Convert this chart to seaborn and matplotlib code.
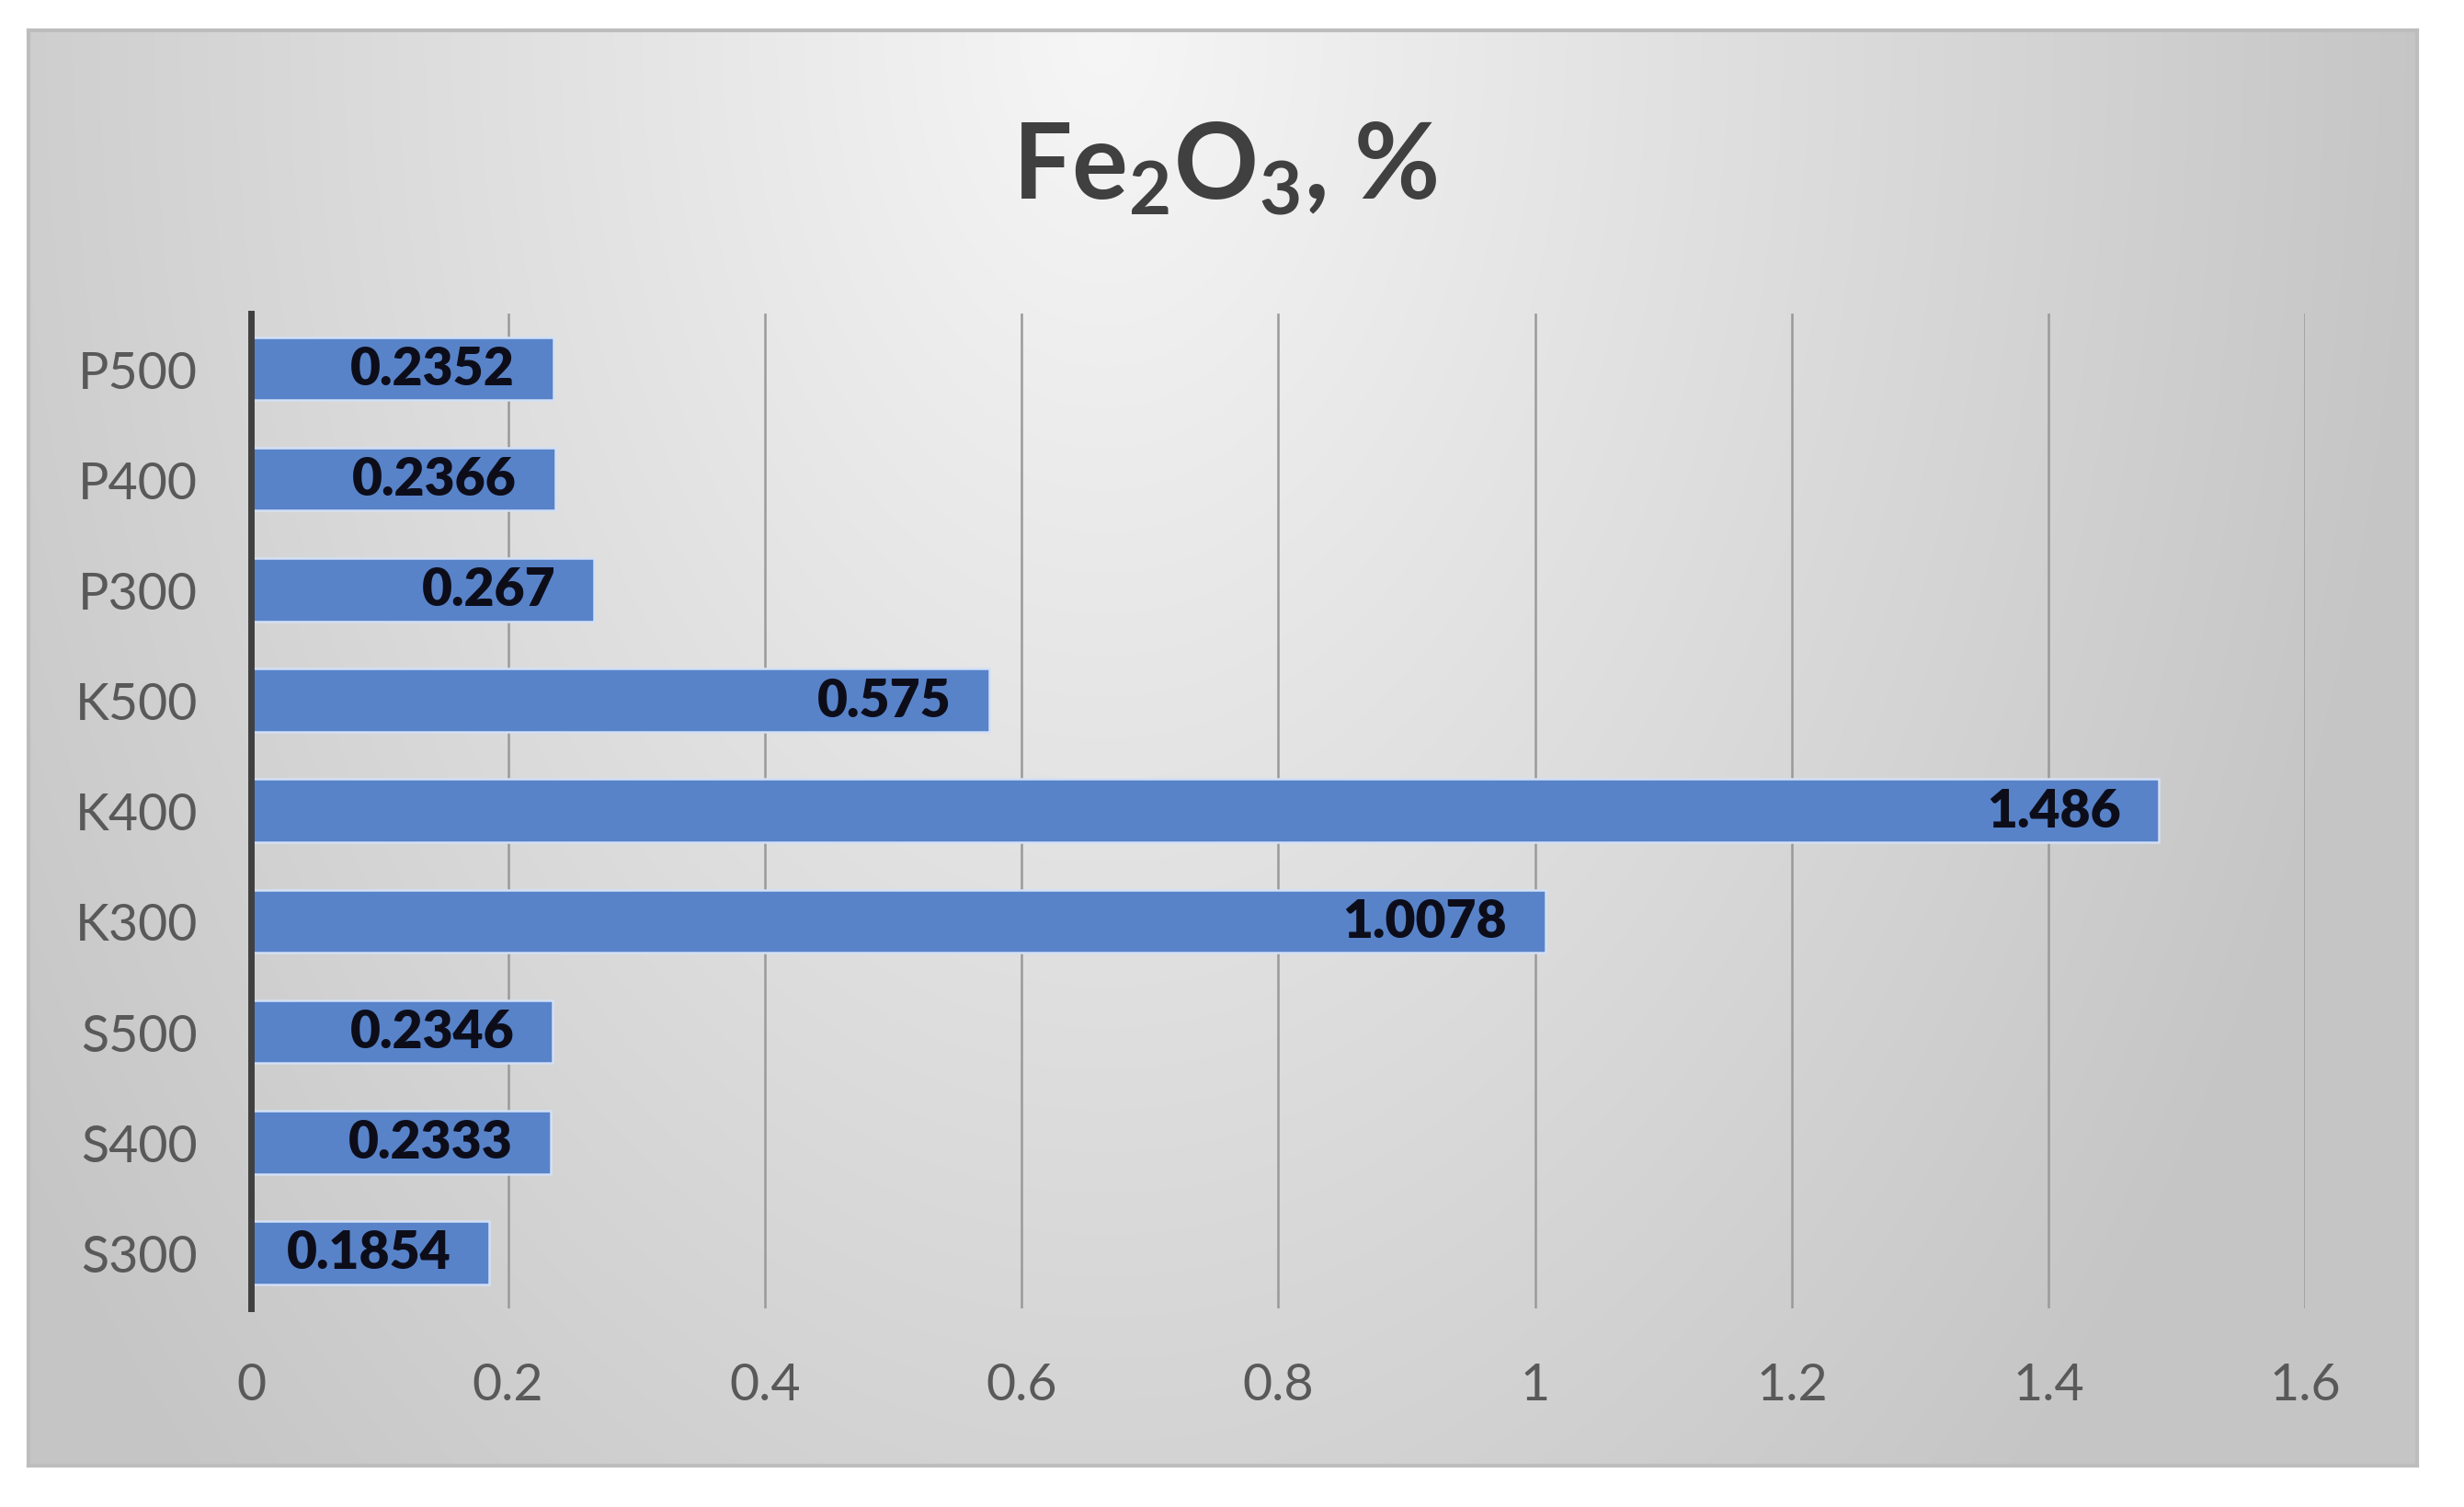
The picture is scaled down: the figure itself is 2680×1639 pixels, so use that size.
import numpy as np
import pandas as pd
import matplotlib
matplotlib.use("Agg")
import matplotlib.pyplot as plt
import seaborn as sns

# ---- data ----
categories = ["P500", "P400", "P300", "K500", "K400", "K300", "S500", "S400", "S300"]
values = [0.2352, 0.2366, 0.267, 0.575, 1.486, 1.0078, 0.2346, 0.2333, 0.1854]
value_labels = ["0.2352", "0.2366", "0.267", "0.575", "1.486", "1.0078", "0.2346", "0.2333", "0.1854"]
x_ticks = [0, 0.2, 0.4, 0.6, 0.8, 1.0, 1.2, 1.4, 1.6]
x_tick_labels = ["0", "0.2", "0.4", "0.6", "0.8", "1", "1.2", "1.4", "1.6"]
title = r"Fe$_\mathbf{2}$O$_\mathbf{3}$, %"

df = pd.DataFrame({"sample": categories, "value": values})

sns.set_theme(style="white")
plt.rcParams["font.family"] = ["Lato", "DejaVu Sans"]
plt.rcParams["mathtext.fontset"] = "custom"
plt.rcParams["mathtext.rm"] = "Lato"
plt.rcParams["mathtext.bf"] = "Lato:bold"
plt.rcParams["mathtext.it"] = "Lato:italic"

fig = plt.figure(figsize=(26.8, 16.4), dpi=100)
fig.patch.set_facecolor("white")

# background panel with soft gradient (decoration)
bg = fig.add_axes([0.0116, 0.0274, 0.9695, 0.9516])
ny, nx = 300, 600
yy, xx = np.mgrid[0:1:ny * 1j, 0:1:nx * 1j]
d = np.sqrt(((xx - 0.45) / 0.55) ** 2 + (yy / 1.4) ** 2)
shade = 0.965 - 0.19 * np.clip(d, 0, 1.0)
img = np.dstack([shade, shade, shade])
bg.imshow(img, aspect="auto", extent=[0, 1, 0, 1], origin="upper", interpolation="bilinear")
bg.set_xlim(0, 1)
bg.set_ylim(0, 1)
bg.set_xticks([])
bg.set_yticks([])
for s in bg.spines.values():
    s.set_color("#bdbdbd")
    s.set_linewidth(3)
bg.set_zorder(0)

ax = fig.add_axes([0.102, 0.132, 0.8336, 0.6595])
ax.set_zorder(1)
ax.patch.set_alpha(0)

sns.barplot(data=df, x="value", y="sample", orient="h", order=categories,
            color="#5883c9", saturation=1, width=0.57, ax=ax,
            edgecolor="#d3e0f5", linewidth=1.8)

ax.set_xlim(0, 1.6)
ax.set_xticks(x_ticks)
ax.set_xticklabels(x_tick_labels)
ax.set_xlabel("")
ax.set_ylabel("")

ax.xaxis.grid(True, color="#9a9a9a", linewidth=1.8)
ax.yaxis.grid(False)
ax.set_axisbelow(True)

for side in ["top", "right", "bottom"]:
    ax.spines[side].set_visible(False)
ax.spines["left"].set_color("#404040")
ax.spines["left"].set_linewidth(5)
ax.spines["left"].set_zorder(5)

ax.tick_params(axis="x", length=0, pad=42, labelsize=40, labelcolor="#595959")
ax.tick_params(axis="y", length=0, pad=42, labelsize=40, labelcolor="#595959")

for cont in ax.containers:
    texts = ax.bar_label(cont, labels=value_labels, padding=-30,
                         fontsize=41, fontweight="heavy", color="#0d0d1a")
    for t in texts:
        t.set_ha("right")

fig.text(0.497, 0.868, title, ha="center", va="baseline",
         fontsize=82, fontweight="bold", color="#404040")

fig.savefig("out.png", dpi=100, facecolor="white")
